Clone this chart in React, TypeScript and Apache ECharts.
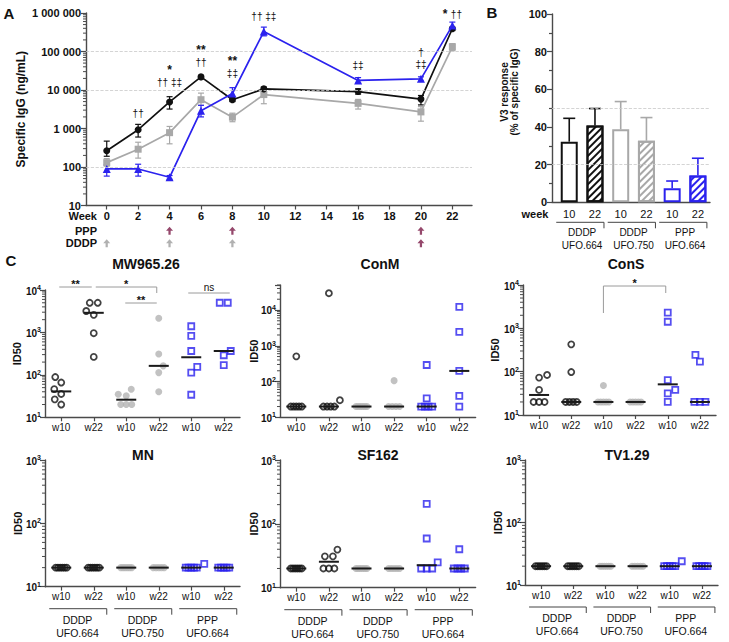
import React, { useEffect, useRef } from "react";
import * as echarts from "echarts";

const FONT = '"Liberation Sans", Arial, Helvetica, sans-serif';
const INK = "#111111";
const GRAY = "#a8a8a8";
const BLUE = "#2b22ee";
const MAROON = "#7a1a47";
const AXIS = "#4a4a4a";

// ---------------- Panel A data ----------------
const weeks = [0, 2, 4, 6, 8, 10, 16, 20, 22];
const weekTicks = [0, 2, 4, 6, 8, 10, 12, 14, 16, 18, 20, 22];
const dddp664 = [265, 930, 4900, 21900, 5600, 10700, 9100, 5800, 390000];
const dddp664Low = [190, 600, 3200, 19500, 5000, 9500, 7800, 4100, 350000];
const dddp664High = [470, 1280, 6700, 24000, 6300, 12000, 10800, 7200, 430000];
const dddp750 = [130, 290, 780, 5600, 1970, 7600, 4500, 2700, 132000];
const dddp750Low = [105, 170, 400, 4000, 1500, 4400, 3200, 1550, 105000];
const dddp750High = [165, 440, 1130, 8300, 2500, 9700, 5700, 3700, 160000];
const ppp664 = [89, 89, 54, 2900, 8100, 330000, 17700, 19500, 470000];
const ppp664Low = [58, 58, 48, 2000, 5600, 255000, 15000, 17000, 390000];
const ppp664High = [115, 118, 60, 4000, 11500, 430000, 21000, 22000, 580000];
const dnaWeeksDDDP = [0, 4, 8];
const proteinWeeksDDDP = [20];
const proteinWeeksPPP = [4, 8, 20];
// significance annotations (text block bottom sits at the given level)
const sigWeeks = [2, 4, 6, 8, 10, 16, 20, 22];
const sigLevels = [1720, 11000, 37000, 19300, 550000, 31000, 33000, 650000];
const sigTexts = [
  "{d|††}",
  "{s|*}\n{d|†† ‡‡}",
  "{s|**}\n{d|††}",
  "{s|**}\n{d|‡‡}",
  "{d|†† ‡‡}",
  "{d|‡‡}",
  "{d|†}\n{d|‡‡}",
  "{s|*} {d|††}",
];
const aDashedLevels = [100, 10000, 100000];

// ---------------- Panel B data ----------------
const bWeekLabels = ["10", "22", "10", "22", "10", "22"];
const bMeans = [32.2, 40.8, 38.8, 32.7, 7.4, 14.2];
const bUpper = [44.6, 49.8, 53.5, 45, 11.3, 23.4];
const groupVaccine = ["DDDP", "DDDP", "PPP"];
const groupImmunogen = ["UFO.664", "UFO.750", "UFO.664"];

// ---------------- Panel C data ----------------
const cTitles = ["MW965.26", "ConM", "ConS", "MN", "SF162", "TV1.29"];
const cTickLabels = ["w10", "w22", "w10", "w22", "w10", "w22"];
const mw965 = [
  [66, 89, 46, 35.5, 26.5, 20],
  [5000, 5000, 3200, 2600, 960, 265],
  [46, 35, 32, 20, 20, 20],
  [2150, 310, 163, 113, 40],
  [1400, 830, 365, 155, 113, 34],
  [5000, 5000, 365, 290, 170],
];
const conM = [
  [507, 20, 20, 20, 20, 20],
  [29500, 30, 20, 20, 20, 20],
  [20, 20, 20, 20, 20, 20],
  [106, 20, 20, 20, 20],
  [290, 34, 20, 20, 20, 20],
  [12300, 2450, 198, 39.5, 20],
];
const conS = [
  [73, 84, 38, 20, 20, 20],
  [427, 98, 20, 20, 20, 20],
  [48, 20, 20, 20, 20, 20],
  [20, 20, 20, 20, 20],
  [2300, 1420, 64, 38, 31.6, 20],
  [245, 170, 20, 20, 20],
];
const mn = [
  [20, 20, 20, 20, 20, 20],
  [20, 20, 20, 20, 20, 20],
  [20, 20, 20, 20, 20, 20],
  [20, 20, 20, 20, 20],
  [23, 20, 20, 20, 20, 20],
  [20, 20, 20, 20, 20],
];
const sf162 = [
  [20, 20, 20, 20, 20, 20],
  [39.5, 31, 31, 20, 20, 20],
  [20, 20, 20, 20, 20, 20],
  [20, 20, 20, 20, 20],
  [205, 59, 25, 20, 20, 20],
  [40, 20, 20, 20, 20],
];
const tv129 = [
  [20, 20, 20, 20, 20, 20],
  [20, 20, 20, 20, 20, 20],
  [20, 20, 20, 20, 20, 20],
  [20, 20, 20, 20, 20],
  [24, 20, 20, 20, 20, 20],
  [20, 20, 20, 20, 20],
];
const cPanels = [mw965, conM, conS, mn, sf162, tv129];
const cAxisMax = [1e4, 5e4, 1e4, 1e3, 1e3, 1e3];

// ---------------- Layout ----------------
const LAYOUT = {
  A: { left: 86, top: 13, width: 386, height: 192.5 },
  Arrow: { left: 105, top: 224.5, width: 367, height: 25 },
  B: { left: 552, top: 14, width: 158, height: 188.3 },
  C: [
    { left: 45, top: 290, width: 195, height: 127.3 },
    { left: 280, top: 285, width: 195.6, height: 132.3 },
    { left: 523, top: 285, width: 193, height: 130 },
    { left: 45, top: 460, width: 195, height: 126.7 },
    { left: 280, top: 460, width: 195.6, height: 127.7 },
    { left: 525, top: 460, width: 193, height: 125 },
  ],
};
const cNameGap = [23, 21, 23, 22, 21, 22];
const cTitlePos = [
  [146, 264],
  [380, 264],
  [626, 264],
  [143, 455],
  [378, 455],
  [627, 455],
];
const cSigBrackets = [
  { panel: 0, a: 0, b: 1, da: -2, db: -2, y: 287, legA: 0, legB: 0, text: "**" },
  { panel: 0, a: 1, b: 3, da: 2, db: -2, y: 287, legA: 0, legB: 6, text: "*" },
  { panel: 0, a: 2, b: 3, da: -1, db: -2, y: 303, legA: 0, legB: 0, text: "**" },
  { panel: 0, a: 4, b: 5, da: -3, db: 6, y: 293, legA: 0, legB: 0, text: "ns" },
  { panel: 2, a: 2, b: 4, da: 0, db: -2, y: 286, legA: 27, legB: 7, text: "*" },
];

const groupColor = [INK, INK, GRAY, GRAY, BLUE, BLUE];
const bColors = [INK, GRAY, BLUE];

function spaced(v: number) {
  return String(Math.round(v)).replace(/\B(?=(\d{3})+(?!\d))/g, " ");
}
function isPow10(v: number) {
  const e = Math.log10(v);
  return Math.abs(e - Math.round(e)) < 1e-6;
}
function median(vals: number[]) {
  const s = [...vals].sort((a, b) => a - b);
  const n = s.length;
  return n % 2 ? s[(n - 1) / 2] : (s[n / 2 - 1] + s[n / 2]) / 2;
}

// simple beeswarm layout: returns offsets in category units
function swarm(vals: number[], decadePx: number, catPx: number): number[] {
  const n = vals.length;
  const off = new Array(n).fill(0);
  const done = new Array(n).fill(false);
  const ys = vals.map((v) => Math.log10(v) * decadePx);
  const placed: { x: number; y: number }[] = [];
  const groups = new Map<number, number[]>();
  vals.forEach((v, i) => {
    if (!groups.has(v)) groups.set(v, []);
    groups.get(v)!.push(i);
  });
  groups.forEach((idx) => {
    if (idx.length < 2) return;
    const m = idx.length;
    const sp = m === 2 ? 8 : 11 / (m - 1);
    idx.forEach((i, j) => {
      off[i] = (j - (m - 1) / 2) * sp;
      done[i] = true;
      placed.push({ x: off[i], y: ys[i] });
    });
  });
  const D = 9.5;
  const order = vals.map((_, i) => i).filter((i) => !done[i]).sort((a, b) => vals[a] - vals[b]);
  order.forEach((i, k) => {
    let best = 0;
    for (let s = 0; s < 40; s += 0.5) {
      const cands = k % 2 === 0 ? [s, -s] : [-s, s];
      let found = false;
      for (const c of cands) {
        if (placed.every((p) => Math.hypot(p.x - c, p.y - ys[i]) >= (p.y === ys[i] ? D : D * 0.85))) {
          best = c;
          found = true;
          break;
        }
      }
      if (found) break;
    }
    off[i] = best;
    placed.push({ x: best, y: ys[i] });
  });
  return off.map((o) => o / catPx);
}

const axisLine = { show: true, onZero: false, lineStyle: { color: AXIS, width: 1.4 } };
const tickStyle = { color: AXIS, width: 1.2 };
const boldLabel = { fontSize: 11, fontWeight: "bold", color: INK, fontFamily: FONT };

function logLabelFormatter(v: number) {
  if (!isPow10(v)) return "";
  return `{b|10}{e|${Math.round(Math.log10(v))}}`;
}
const logRich = {
  b: { fontSize: 10, fontWeight: "bold", color: INK, fontFamily: FONT, verticalAlign: "bottom" },
  e: { fontSize: 7, fontWeight: "bold", color: INK, fontFamily: FONT, verticalAlign: "bottom", padding: [0, 0, 5, 0] },
};

function buildOption() {
  const grids: any[] = [LAYOUT.A, LAYOUT.Arrow, LAYOUT.B, ...LAYOUT.C].map((g) => ({
    ...g,
    containLabel: false,
    outerBoundsMode: "none",
  }));
  const xAxes: any[] = [];
  const yAxes: any[] = [];
  const series: any[] = [];

  // ---- A axes
  xAxes.push({
    type: "value",
    gridIndex: 0,
    min: -1.32,
    max: 23.25,
    splitLine: { show: false },
    axisLine,
    axisTick: { show: true, customValues: weekTicks, length: 4, lineStyle: tickStyle },
    axisLabel: { ...boldLabel, customValues: weekTicks, margin: 5 },
  });
  yAxes.push({
    type: "log",
    logBase: 10,
    gridIndex: 0,
    min: 10,
    max: 1e6,
    splitLine: { show: false },
    axisLine,
    axisTick: { show: true, length: 5, lineStyle: tickStyle },
    axisLabel: { ...boldLabel, margin: 5, formatter: (v: number) => (isPow10(v) ? spaced(v) : "") },
    name: "Specific IgG (ng/mL)",
    nameLocation: "middle",
    nameGap: 59,
    nameRotate: 90,
    nameMoveOverlap: false,
    nameTextStyle: { fontSize: 12, fontWeight: "bold", color: INK, fontFamily: FONT },
  });
  // ---- Arrow axes
  xAxes.push({ type: "value", gridIndex: 1, min: -0.108, max: 23.25, show: false });
  yAxes.push({
    type: "category",
    gridIndex: 1,
    data: ["DDDP", "PPP"],
    axisLine: { show: false },
    axisTick: { show: false },
    splitLine: { show: false },
    axisLabel: { ...boldLabel, margin: 8, interval: 0 },
  });
  // ---- B axes
  xAxes.push({
    type: "value",
    gridIndex: 2,
    min: 0.33,
    max: 6.47,
    splitLine: { show: false },
    axisLine,
    axisTick: { show: false },
    axisLabel: {
      customValues: [1, 2, 3, 4, 5, 6],
      formatter: (v: number) => bWeekLabels[Math.round(v) - 1] ?? "",
      fontSize: 11,
      color: INK,
      fontFamily: FONT,
      margin: 6,
    },
  });
  yAxes.push({
    type: "value",
    gridIndex: 2,
    min: 0,
    max: 100,
    interval: 20,
    splitLine: { show: false },
    axisLine,
    axisTick: { show: true, length: 5, lineStyle: tickStyle },
    minorTick: { show: true, splitNumber: 2, length: 3, lineStyle: tickStyle },
    axisLabel: { ...boldLabel, margin: 5 },
  });
  // ---- C axes
  LAYOUT.C.forEach((g, p) => {
    xAxes.push({
      type: "value",
      gridIndex: 3 + p,
      min: -0.5,
      max: 5.5,
      splitLine: { show: false },
      axisLine,
      axisTick: { show: true, customValues: [0, 1, 2, 3, 4, 5], length: 4, lineStyle: tickStyle },
      axisLabel: {
        customValues: [0, 1, 2, 3, 4, 5],
        formatter: (v: number) => cTickLabels[Math.round(v)] ?? "",
        fontSize: 10,
        color: INK,
        fontFamily: FONT,
        margin: 5,
      },
    });
    yAxes.push({
      type: "log",
      logBase: 10,
      gridIndex: 3 + p,
      min: 10,
      max: cAxisMax[p],
      splitLine: { show: false },
      axisLine,
      axisTick: { show: true, length: 5, lineStyle: tickStyle },
      axisLabel: { formatter: logLabelFormatter, rich: logRich, margin: 4 },
      name: "ID50",
      nameLocation: "middle",
      nameGap: cNameGap[p],
      nameRotate: 90,
      nameMoveOverlap: false,
      nameTextStyle: { fontSize: 11, fontWeight: "bold", color: INK, fontFamily: FONT },
    });
  });

  // ---- A series
  const errSeries = (lo: number[], hi: number[], color: string) => ({
    type: "custom",
    xAxisIndex: 0,
    yAxisIndex: 0,
    silent: true,
    z: 1,
    data: weeks.map((w, i) => [w, lo[i], hi[i]]),
    encode: { x: 0, y: [1, 2] },
    renderItem: (_p: any, api: any) => {
      const x = api.value(0);
      const a = api.coord([x, api.value(1)]);
      const b = api.coord([x, api.value(2)]);
      const st = { stroke: color, lineWidth: 1.2 };
      return {
        type: "group",
        children: [
          { type: "line", shape: { x1: a[0], y1: a[1], x2: b[0], y2: b[1] }, style: st },
          { type: "line", shape: { x1: a[0] - 3, y1: a[1], x2: a[0] + 3, y2: a[1] }, style: st },
          { type: "line", shape: { x1: b[0] - 3, y1: b[1], x2: b[0] + 3, y2: b[1] }, style: st },
        ],
      };
    },
  });
  const lineSeries = (vals: number[], color: string, symbol: string, size: number, z: number, extra: any = {}) => ({
    type: "line",
    xAxisIndex: 0,
    yAxisIndex: 0,
    silent: true,
    z,
    data: weeks.map((w, i) => [w, vals[i]]),
    symbol,
    symbolSize: size,
    showAllSymbol: true,
    itemStyle: { color },
    lineStyle: { color, width: 1.7 },
    ...extra,
  });
  series.push(errSeries(dddp750Low, dddp750High, GRAY));
  series.push(errSeries(dddp664Low, dddp664High, INK));
  series.push(errSeries(ppp664Low, ppp664High, BLUE));
  series.push(
    lineSeries(dddp750, GRAY, "rect", 7, 2, {
      markLine: {
        silent: true,
        symbol: ["none", "none"],
        label: { show: false },
        lineStyle: { type: "dashed", color: "#c9c9c9", width: 0.8 },
        data: aDashedLevels.map((v) => ({ yAxis: v })),
      },
    })
  );
  series.push(lineSeries(dddp664, INK, "circle", 7, 3));
  series.push(lineSeries(ppp664, BLUE, "triangle", 8, 4));

  // ---- Arrow series
  const ARROW = "path://M5,0 L10,5 L6.6,5 L6.6,10 L3.4,10 L3.4,5 L0,5 Z";
  series.push({
    type: "scatter",
    xAxisIndex: 1,
    yAxisIndex: 1,
    silent: true,
    symbol: ARROW,
    symbolSize: [7, 8],
    itemStyle: { color: "#9e9e9e" },
    data: dnaWeeksDDDP.map((w) => [w, "DDDP"]),
  });
  series.push({
    type: "scatter",
    xAxisIndex: 1,
    yAxisIndex: 1,
    silent: true,
    symbol: ARROW,
    symbolSize: [7, 8],
    itemStyle: { color: MAROON },
    data: [...proteinWeeksPPP.map((w) => [w, "PPP"]), ...proteinWeeksDDDP.map((w) => [w, "DDDP"])],
  });

  // ---- B series
  series.push({
    type: "bar",
    xAxisIndex: 2,
    yAxisIndex: 2,
    silent: true,
    barWidth: 17,
    data: bMeans.map((v, i) => {
      const c = bColors[Math.floor(i / 2)];
      const hatched = i % 2 === 1;
      return {
        value: [i + 1, v],
        itemStyle: {
          color: "#ffffff",
          borderColor: c,
          borderWidth: 2,
          decal: hatched
            ? {
                symbol: "rect",
                symbolSize: 1,
                color: c,
                backgroundColor: "#ffffff",
                dashArrayX: [1, 0],
                dashArrayY: [2, 3],
                rotation: -Math.PI / 4,
              }
            : "none",
        },
      };
    }),
    markLine: {
      silent: true,
      symbol: ["none", "none"],
      label: { show: false },
      lineStyle: { type: "dashed", color: "#c9c9c9", width: 0.8 },
      data: [{ yAxis: 20 }, { yAxis: 50 }],
    },
  });
  series.push({
    type: "custom",
    xAxisIndex: 2,
    yAxisIndex: 2,
    silent: true,
    z: 3,
    data: bMeans.map((v, i) => [i + 1, v, bUpper[i]]),
    encode: { x: 0, y: [1, 2] },
    renderItem: (params: any, api: any) => {
      const c = bColors[Math.floor(params.dataIndex / 2)];
      const a = api.coord([api.value(0), api.value(1)]);
      const b = api.coord([api.value(0), api.value(2)]);
      const st = { stroke: c, lineWidth: 1.6 };
      return {
        type: "group",
        children: [
          { type: "line", shape: { x1: a[0], y1: a[1], x2: b[0], y2: b[1] }, style: st },
          { type: "line", shape: { x1: b[0] - 6, y1: b[1], x2: b[0] + 6, y2: b[1] }, style: st },
        ],
      };
    },
  });

  // ---- C series
  cPanels.forEach((panel, p) => {
    const g = LAYOUT.C[p];
    const catPx = g.width / 6;
    const decadePx = g.height / (Math.log10(cAxisMax[p]) - 1);
    panel.forEach((vals, gi) => {
      const off = swarm(vals, decadePx, catPx);
      const isBlue = gi >= 4;
      const isGray = gi === 2 || gi === 3;
      series.push({
        type: "scatter",
        xAxisIndex: 3 + p,
        yAxisIndex: 3 + p,
        silent: true,
        z: 2,
        symbol: isBlue ? "rect" : "circle",
        symbolSize: isGray ? 7 : 6,
        itemStyle: isGray
          ? { color: "#b3b3b3" }
          : { color: "rgba(0,0,0,0)", borderColor: groupColor[gi], borderWidth: 1.8 },
        data: vals.map((v, i) => [gi + off[i], v]),
      });
    });
    series.push({
      type: "custom",
      xAxisIndex: 3 + p,
      yAxisIndex: 3 + p,
      silent: true,
      z: 4,
      data: panel.map((vals, gi) => [gi, median(vals)]),
      encode: { x: 0, y: 1 },
      renderItem: (_params: any, api: any) => {
        const c = api.coord([api.value(0), api.value(1)]);
        return {
          type: "line",
          shape: { x1: c[0] - 10, y1: c[1], x2: c[0] + 10, y2: c[1] },
          style: { stroke: "#1a1a1a", lineWidth: 2 },
        };
      },
    });
  });

  return {
    animation: false,
    backgroundColor: "#ffffff",
    textStyle: { fontFamily: FONT },
    grid: grids,
    xAxis: xAxes,
    yAxis: yAxes,
    series,
  };
}

function buildGraphics(chart: any) {
  const P = (xi: number, yi: number, pt: any[]) =>
    chart.convertToPixel({ xAxisIndex: xi, yAxisIndex: yi }, pt) as number[];
  const els: any[] = [];
  const text = (
    x: number,
    y: number,
    t: string,
    size: number,
    weight = "normal",
    align = "center",
    extra: any = {}
  ) =>
    els.push({
      type: "text",
      x,
      y,
      silent: true,
      z: 100,
      ...extra,
      style: {
        text: t,
        fontSize: size,
        fontWeight: weight,
        fontFamily: FONT,
        fill: INK,
        align,
        verticalAlign: "middle",
      },
    });
  const line = (x1: number, y1: number, x2: number, y2: number, color = "#444", w = 1) =>
    els.push({ type: "line", silent: true, z: 100, shape: { x1, y1, x2, y2 }, style: { stroke: color, lineWidth: w } });

  // panel letters
  text(9, 13, "A", 15, "bold");
  text(492, 12, "B", 15, "bold");
  text(11, 260, "C", 15, "bold");

  // panel A annotations (one text block per week)
  const sigRich = {
    s: { fontSize: 12, fontWeight: "bold", fontFamily: FONT, fill: INK, lineHeight: 12 },
    d: { fontSize: 10, fontFamily: FONT, fill: INK, lineHeight: 12 },
  };
  sigWeeks.forEach((w, i) => {
    const p = P(0, 0, [w, sigLevels[i]]);
    els.push({
      type: "text",
      x: p[0],
      y: p[1],
      silent: true,
      z: 100,
      style: {
        text: sigTexts[i],
        rich: sigRich,
        fill: INK,
        fontFamily: FONT,
        align: "center",
        verticalAlign: "bottom",
      },
    });
  });
  text(97, 216, "Week", 11, "bold", "right");
  // A minor ticks (log)
  const axA = P(0, 0, [-1.32, 10])[0];
  for (let k = 1; k < 6; k++) {
    for (let m = 2; m <= 9; m++) {
      const y = P(0, 0, [0, m * Math.pow(10, k)])[1];
      line(axA - 3, y, axA, y, AXIS, 1);
    }
  }

  // panel B
  text(509, 92, "V3 response\n(% of specific IgG)", 10, "bold", "center", { rotation: Math.PI / 2 });
  text(535, 214, "week", 11, "bold");
  for (let j = 0; j < 3; j++) {
    const a = P(2, 2, [2 * j + 1, 0]);
    const b = P(2, 2, [2 * j + 2, 0]);
    const yb = a[1] + 20;
    line(a[0] - 13, yb, b[0] + 9, yb);
    line(b[0] + 9, yb, b[0] + 9, yb + 6);
    text((a[0] + b[0]) / 2, yb + 10, groupVaccine[j], 10);
    text((a[0] + b[0]) / 2, yb + 23, groupImmunogen[j], 10);
  }

  // panel C titles, minor ticks, brackets
  cTitles.forEach((t, p) => text(cTitlePos[p][0], cTitlePos[p][1], t, 14, "bold"));
  cAxisMax.forEach((mx, p) => {
    const ax = P(3 + p, 3 + p, [-0.5, 10])[0];
    for (let k = 1; k < 5; k++) {
      for (let m = 2; m <= 9; m++) {
        const v = m * Math.pow(10, k);
        if (v > mx * 1.0001) continue;
        const y = P(3 + p, 3 + p, [0, v])[1];
        line(ax - 3, y, ax, y, AXIS, 1);
      }
    }
  });
  for (let p = 3; p < 6; p++) {
    for (let j = 0; j < 3; j++) {
      const a = P(3 + p, 3 + p, [2 * j, 10]);
      const b = P(3 + p, 3 + p, [2 * j + 1, 10]);
      const yb = a[1] + 22;
      line(a[0] - 12, yb, b[0] + 13, yb);
      line(b[0] + 13, yb, b[0] + 13, yb + 6);
      text((a[0] + b[0]) / 2, yb + 11, groupVaccine[j], 10.5);
      text((a[0] + b[0]) / 2, yb + 24, groupImmunogen[j], 10.5);
    }
  }
  cSigBrackets.forEach((s) => {
    const xa = P(3 + s.panel, 3 + s.panel, [s.a, 20])[0] + s.da;
    const xb = P(3 + s.panel, 3 + s.panel, [s.b, 20])[0] + s.db;
    line(xa, s.y, xb, s.y, "#9a9a9a", 1);
    if (s.legA) line(xa, s.y, xa, s.y + s.legA, "#9a9a9a", 1);
    if (s.legB) line(xb, s.y, xb, s.y + s.legB, "#9a9a9a", 1);
    const isNs = s.text === "ns";
    text((xa + xb) / 2, s.y - (isNs ? 6 : 3), s.text, isNs ? 10 : 11, isNs ? "normal" : "bold");
  });

  return els;
}

export default function App() {
  const ref = useRef<HTMLDivElement>(null);
  useEffect(() => {
    if (!ref.current) return;
    const chart = echarts.init(ref.current, null, { renderer: "svg" });
    chart.setOption(buildOption() as any);
    chart.setOption({ graphic: buildGraphics(chart) } as any);
    return () => chart.dispose();
  }, []);
  return (
    <div
      ref={ref}
      style={{ position: "fixed", left: 0, top: 0, width: 729, height: 642, background: "#fff" }}
    />
  );
}
